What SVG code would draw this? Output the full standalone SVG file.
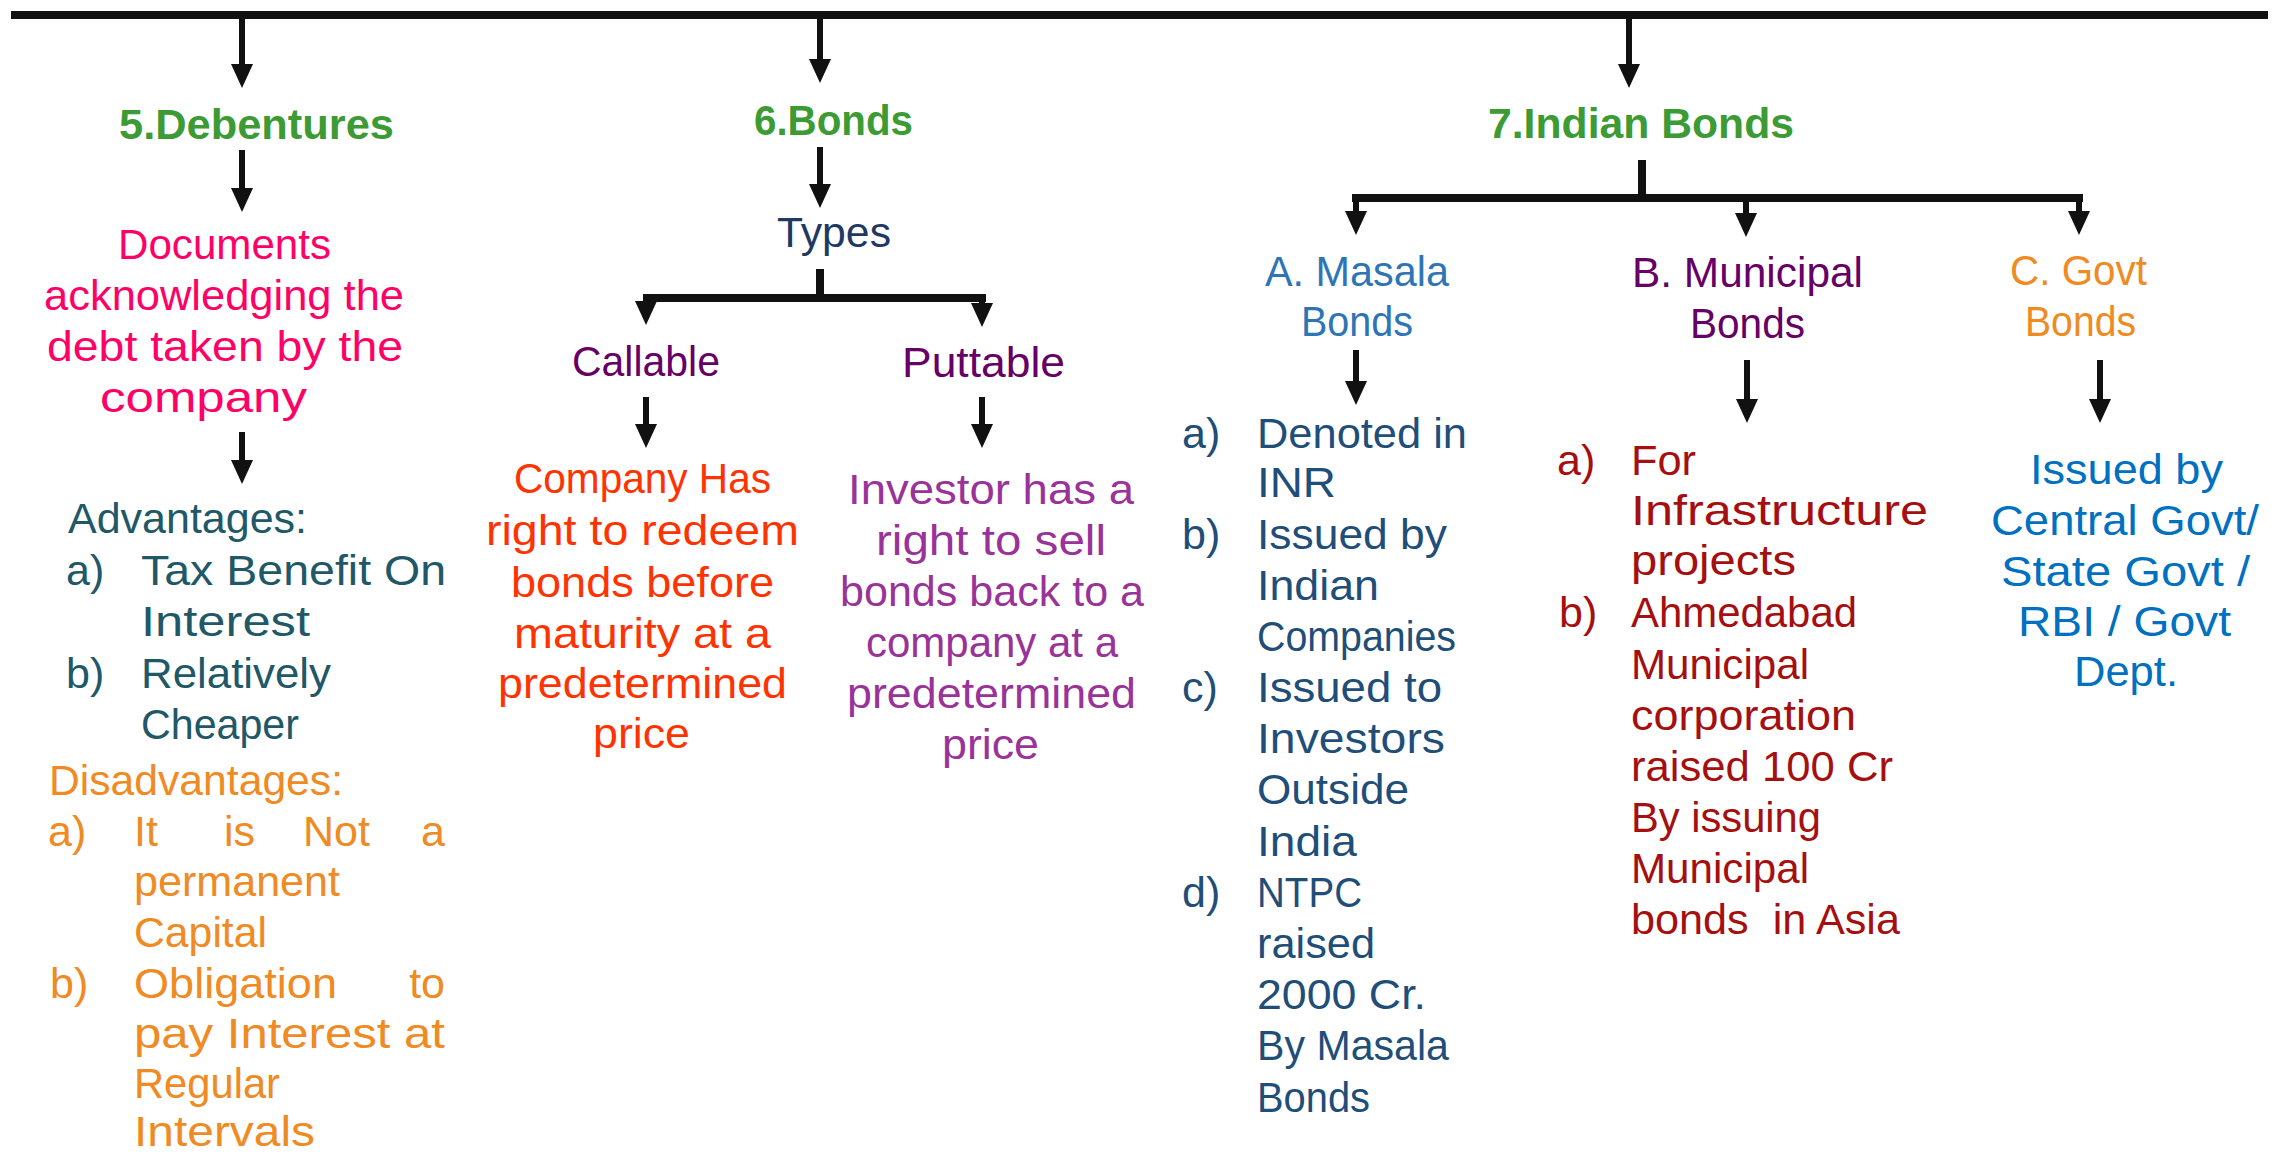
<svg xmlns="http://www.w3.org/2000/svg" width="2279" height="1158" viewBox="0 0 2279 1158">
<style>
text{font-family:"Liberation Sans",Arial,sans-serif;font-size:43px}
.t{font-weight:bold;fill:#3c9b35}
.pink{fill:#ff0066}
.teal{fill:#215868}
.org{fill:#f08a22}
.red{fill:#ff3300}
.pur{fill:#660066}
.mag{fill:#993399}
.navy{fill:#1f3864}
.blue{fill:#2e75b6}
.dblue{fill:#1f4e79}
.dred{fill:#a50f0f}
.gblue{fill:#0070c0}
.bar{stroke:#111;fill:none;stroke-width:8}
.ar{stroke:#111;fill:none;stroke-width:6;marker-end:url(#ah)}
</style>
<defs>
<marker id="ah" markerUnits="userSpaceOnUse" viewBox="0 0 24 22" markerWidth="24" markerHeight="22" refX="12" refY="11" orient="auto">
<path d="M0,0 L24,11 L0,22 z" fill="#111"/>
</marker>
</defs>
<rect width="2279" height="1158" fill="#fff"/>
<g id="connectors">
<line class="bar" x1="11" y1="15" x2="2268" y2="15"/>
<line class="ar" x1="242" y1="15" x2="242" y2="76"/>
<line class="ar" x1="820" y1="15" x2="820" y2="71"/>
<line class="ar" x1="1629" y1="15" x2="1629" y2="76"/>
<line class="ar" x1="242" y1="150" x2="242" y2="200"/>
<line class="ar" x1="242" y1="432" x2="242" y2="472"/>
<line class="ar" x1="820" y1="147" x2="820" y2="196"/>
<line class="bar" x1="820" y1="269" x2="820" y2="298"/>
<line class="bar" x1="643" y1="298" x2="986" y2="298"/>
<line class="ar" x1="646" y1="298" x2="646" y2="313"/>
<line class="ar" x1="982" y1="298" x2="982" y2="315"/>
<line class="ar" x1="646" y1="397" x2="646" y2="436"/>
<line class="ar" x1="982" y1="397" x2="982" y2="436"/>
<line class="bar" x1="1642" y1="160" x2="1642" y2="198"/>
<line class="bar" x1="1352" y1="198" x2="2083" y2="198"/>
<line class="ar" x1="1356" y1="198" x2="1356" y2="223"/>
<line class="ar" x1="1746" y1="198" x2="1746" y2="225"/>
<line class="ar" x1="2079" y1="198" x2="2079" y2="223"/>
<line class="ar" x1="1356" y1="350" x2="1356" y2="393"/>
<line class="ar" x1="1747" y1="360" x2="1747" y2="411"/>
<line class="ar" x1="2100" y1="360" x2="2100" y2="411"/>
</g>
<g id="debentures"><text class="t" x="119" y="139" textLength="275" lengthAdjust="spacingAndGlyphs">5.Debentures</text></g>
<g id="debentures-definition" class="pink">
<text x="118" y="259" textLength="213" lengthAdjust="spacingAndGlyphs">Documents</text>
<text x="44" y="310" textLength="360" lengthAdjust="spacingAndGlyphs">acknowledging the</text>
<text x="47" y="361" textLength="356" lengthAdjust="spacingAndGlyphs">debt taken by the</text>
<text x="100" y="412" textLength="207" lengthAdjust="spacingAndGlyphs">company</text>
</g>
<g id="debentures-advantages" class="teal">
<text x="68" y="533" textLength="239" lengthAdjust="spacingAndGlyphs">Advantages:</text>
<text x="66" y="585">a)</text>
<text x="141" y="585" textLength="305" lengthAdjust="spacingAndGlyphs">Tax Benefit On</text>
<text x="141" y="636" textLength="169" lengthAdjust="spacingAndGlyphs">Interest</text>
<text x="66" y="688">b)</text>
<text x="141" y="688" textLength="190" lengthAdjust="spacingAndGlyphs">Relatively</text>
<text x="141" y="739" textLength="158" lengthAdjust="spacingAndGlyphs">Cheaper</text>
</g>
<g id="debentures-disadvantages" class="org">
<text x="49" y="795" textLength="294" lengthAdjust="spacingAndGlyphs">Disadvantages:</text>
<text x="48" y="846">a)</text>
<text x="134" y="846">It</text>
<text x="224" y="846">is</text>
<text x="303" y="846">Not</text>
<text x="445" y="846" text-anchor="end">a</text>
<text x="134" y="896" textLength="206" lengthAdjust="spacingAndGlyphs">permanent</text>
<text x="134" y="947" textLength="133" lengthAdjust="spacingAndGlyphs">Capital</text>
<text x="50" y="998">b)</text>
<text x="134" y="998" textLength="203" lengthAdjust="spacingAndGlyphs">Obligation</text>
<text x="445" y="998" text-anchor="end">to</text>
<text x="134" y="1048" textLength="311" lengthAdjust="spacingAndGlyphs">pay Interest at</text>
<text x="134" y="1098" textLength="146" lengthAdjust="spacingAndGlyphs">Regular</text>
<text x="134" y="1146" textLength="181" lengthAdjust="spacingAndGlyphs">Intervals</text>
</g>
<g id="bonds"><text class="t" x="754" y="135" textLength="159" lengthAdjust="spacingAndGlyphs">6.Bonds</text></g>
<g id="types"><text class="navy" x="777" y="247" textLength="114" lengthAdjust="spacingAndGlyphs">Types</text></g>
<g id="callable"><text class="pur" x="572" y="376" textLength="148" lengthAdjust="spacingAndGlyphs">Callable</text></g>
<g id="puttable"><text class="pur" x="902" y="377" textLength="163" lengthAdjust="spacingAndGlyphs">Puttable</text></g>
<g id="callable-definition" class="red">
<text x="514" y="493" textLength="257" lengthAdjust="spacingAndGlyphs">Company Has</text>
<text x="486" y="545" textLength="313" lengthAdjust="spacingAndGlyphs">right to redeem</text>
<text x="511" y="597" textLength="263" lengthAdjust="spacingAndGlyphs">bonds before</text>
<text x="514" y="648" textLength="257" lengthAdjust="spacingAndGlyphs">maturity at a</text>
<text x="498" y="698" textLength="289" lengthAdjust="spacingAndGlyphs">predetermined</text>
<text x="593" y="748" textLength="97" lengthAdjust="spacingAndGlyphs">price</text>
</g>
<g id="puttable-definition" class="mag">
<text x="848" y="504" textLength="286" lengthAdjust="spacingAndGlyphs">Investor has a</text>
<text x="876" y="555" textLength="230" lengthAdjust="spacingAndGlyphs">right to sell</text>
<text x="840" y="606" textLength="304" lengthAdjust="spacingAndGlyphs">bonds back to a</text>
<text x="866" y="657" textLength="252" lengthAdjust="spacingAndGlyphs">company at a</text>
<text x="847" y="708" textLength="289" lengthAdjust="spacingAndGlyphs">predetermined</text>
<text x="942" y="759" textLength="97" lengthAdjust="spacingAndGlyphs">price</text>
</g>
<g id="indian-bonds"><text class="t" x="1488" y="138" textLength="306" lengthAdjust="spacingAndGlyphs">7.Indian Bonds</text></g>
<g id="masala-bonds" class="blue">
<text x="1265" y="286" textLength="184" lengthAdjust="spacingAndGlyphs">A. Masala</text>
<text x="1301" y="336" textLength="112" lengthAdjust="spacingAndGlyphs">Bonds</text>
</g>
<g id="municipal-bonds" class="pur">
<text x="1632" y="287" textLength="231" lengthAdjust="spacingAndGlyphs">B. Municipal</text>
<text x="1690" y="338" textLength="115" lengthAdjust="spacingAndGlyphs">Bonds</text>
</g>
<g id="govt-bonds" class="org">
<text x="2010" y="285" textLength="137" lengthAdjust="spacingAndGlyphs">C. Govt</text>
<text x="2025" y="336" textLength="111" lengthAdjust="spacingAndGlyphs">Bonds</text>
</g>
<g id="masala-details" class="dblue">
<text x="1182" y="448">a)</text>
<text x="1182" y="549">b)</text>
<text x="1182" y="702">c)</text>
<text x="1182" y="907">d)</text>
<text x="1257" y="448" textLength="210" lengthAdjust="spacingAndGlyphs">Denoted in</text>
<text x="1257" y="497" textLength="79" lengthAdjust="spacingAndGlyphs">INR</text>
<text x="1257" y="549" textLength="190" lengthAdjust="spacingAndGlyphs">Issued by</text>
<text x="1257" y="600" textLength="122" lengthAdjust="spacingAndGlyphs">Indian</text>
<text x="1257" y="651" textLength="199" lengthAdjust="spacingAndGlyphs">Companies</text>
<text x="1257" y="702" textLength="185" lengthAdjust="spacingAndGlyphs">Issued to</text>
<text x="1257" y="753" textLength="188" lengthAdjust="spacingAndGlyphs">Investors</text>
<text x="1257" y="804" textLength="152" lengthAdjust="spacingAndGlyphs">Outside</text>
<text x="1257" y="856" textLength="100" lengthAdjust="spacingAndGlyphs">India</text>
<text x="1257" y="907" textLength="105" lengthAdjust="spacingAndGlyphs">NTPC</text>
<text x="1257" y="958" textLength="118" lengthAdjust="spacingAndGlyphs">raised</text>
<text x="1257" y="1009" textLength="169" lengthAdjust="spacingAndGlyphs">2000 Cr.</text>
<text x="1257" y="1060" textLength="192" lengthAdjust="spacingAndGlyphs">By Masala</text>
<text x="1257" y="1112" textLength="113" lengthAdjust="spacingAndGlyphs">Bonds</text>
</g>
<g id="municipal-details" class="dred">
<text x="1557" y="475">a)</text>
<text x="1559" y="627">b)</text>
<text x="1631" y="475" textLength="65" lengthAdjust="spacingAndGlyphs">For</text>
<text x="1631" y="525" textLength="297" lengthAdjust="spacingAndGlyphs">Infrastructure</text>
<text x="1631" y="575" textLength="165" lengthAdjust="spacingAndGlyphs">projects</text>
<text x="1631" y="627" textLength="226" lengthAdjust="spacingAndGlyphs">Ahmedabad</text>
<text x="1631" y="679" textLength="178" lengthAdjust="spacingAndGlyphs">Municipal</text>
<text x="1631" y="730" textLength="225" lengthAdjust="spacingAndGlyphs">corporation</text>
<text x="1631" y="781" textLength="262" lengthAdjust="spacingAndGlyphs">raised 100 Cr</text>
<text x="1631" y="832" textLength="190" lengthAdjust="spacingAndGlyphs">By issuing</text>
<text x="1631" y="883" textLength="178" lengthAdjust="spacingAndGlyphs">Municipal</text>
<text x="1631" y="934" textLength="269" lengthAdjust="spacingAndGlyphs" xml:space="preserve">bonds  in Asia</text>
</g>
<g id="govt-details" class="gblue">
<text x="2030" y="484" textLength="193" lengthAdjust="spacingAndGlyphs">Issued by</text>
<text x="1991" y="535" textLength="268" lengthAdjust="spacingAndGlyphs">Central Govt/</text>
<text x="2001" y="586" textLength="249" lengthAdjust="spacingAndGlyphs">State Govt /</text>
<text x="2018" y="636" textLength="213" lengthAdjust="spacingAndGlyphs">RBI / Govt</text>
<text x="2074" y="686" textLength="104" lengthAdjust="spacingAndGlyphs">Dept.</text>
</g>
</svg>
